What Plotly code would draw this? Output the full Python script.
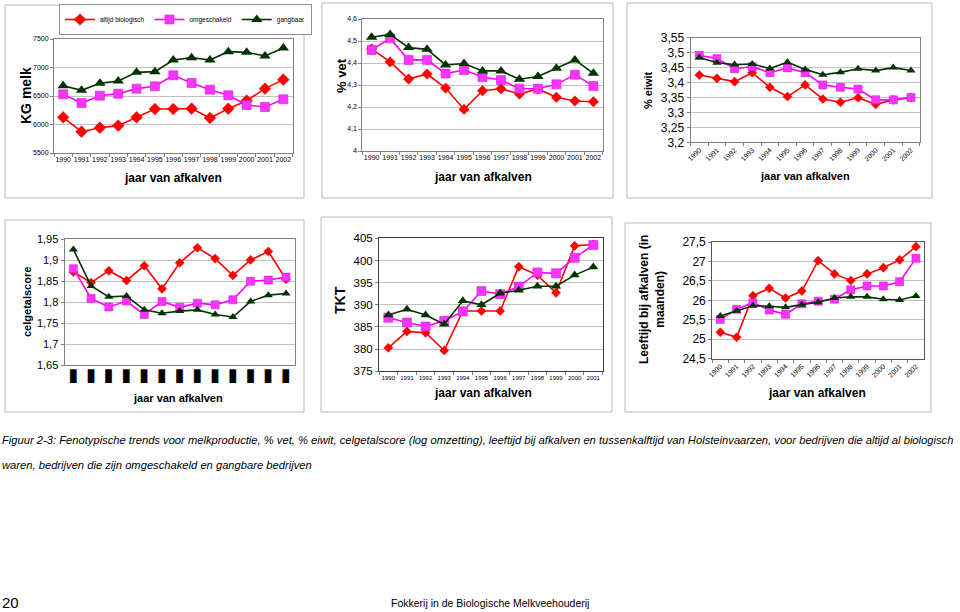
import plotly.graph_objects as go

# ---------------- data ----------------
years13 = ["1990", "1991", "1992", "1993", "1994", "1995", "1996",
           "1997", "1998", "1999", "2000", "2001", "2002"]
years12 = years13[:12]

series_names = ["altijd biologisch", "omgeschakeld", "gangbaar"]

kg_bio = [6126, 5874, 5944, 5980, 6126, 6272, 6272, 6278, 6114, 6278, 6418, 6629, 6787]
kg_omg = [6529, 6377, 6506, 6541, 6629, 6670, 6863, 6728, 6611, 6512, 6342, 6307, 6442]
kg_gang = [6681, 6599, 6722, 6763, 6915, 6927, 7132, 7173, 7132, 7278, 7266, 7202, 7342]

vet_bio = [4.464, 4.405, 4.327, 4.350, 4.286, 4.189, 4.274, 4.283, 4.259, 4.282, 4.244, 4.227, 4.224]
vet_omg = [4.459, 4.512, 4.414, 4.414, 4.352, 4.368, 4.336, 4.323, 4.283, 4.283, 4.303, 4.347, 4.295]
vet_gang = [4.517, 4.530, 4.470, 4.462, 4.391, 4.398, 4.364, 4.364, 4.326, 4.339, 4.376, 4.414, 4.353]

eiwit_bio = [3.425, 3.414, 3.403, 3.433, 3.384, 3.353, 3.392, 3.345, 3.334, 3.349, 3.327, 3.342, 3.350]
eiwit_omg = [3.491, 3.480, 3.446, 3.453, 3.433, 3.449, 3.433, 3.392, 3.384, 3.378, 3.342, 3.342, 3.350]
eiwit_gang = [3.484, 3.466, 3.460, 3.462, 3.447, 3.468, 3.444, 3.426, 3.434, 3.446, 3.440, 3.450, 3.440]

cel_bio = [1.872, 1.847, 1.875, 1.852, 1.887, 1.832, 1.894, 1.930, 1.904, 1.864, 1.901, 1.921, 1.855]
cel_omg = [1.880, 1.809, 1.789, 1.803, 1.771, 1.802, 1.788, 1.798, 1.794, 1.806, 1.850, 1.853, 1.860]
cel_gang = [1.926, 1.839, 1.813, 1.815, 1.782, 1.774, 1.779, 1.782, 1.771, 1.765, 1.802, 1.817, 1.821]

tkt_bio = [380.3, 384.0, 383.7, 379.7, 388.6, 388.6, 388.6, 398.6, 396.7, 392.7, 403.3, 403.6]
tkt_omg = [387.1, 386.0, 385.1, 386.4, 388.5, 393.1, 392.4, 394.1, 397.3, 397.1, 400.6, 403.5]
tkt_gang = [387.7, 389.0, 387.7, 385.6, 390.9, 390.0, 392.6, 393.3, 394.2, 394.2, 396.7, 398.5]

leef_bio = [25.18, 25.05, 26.12, 26.31, 26.06, 26.24, 27.02, 26.68, 26.51, 26.68, 26.84, 27.04, 27.38]
leef_omg = [25.51, 25.77, 25.94, 25.75, 25.64, 25.91, 25.98, 26.03, 26.27, 26.37, 26.37, 26.48, 27.08]
leef_gang = [25.60, 25.73, 25.86, 25.85, 25.82, 25.89, 25.95, 26.06, 26.09, 26.09, 26.03, 26.01, 26.11]

kg_ticks = [5500, 6000, 6500, 7000, 7500]
vet_ticks = [4.0, 4.1, 4.2, 4.3, 4.4, 4.5, 4.6]
eiwit_ticks = [3.2, 3.25, 3.3, 3.35, 3.4, 3.45, 3.5, 3.55]
cel_ticks = [1.65, 1.7, 1.75, 1.8, 1.85, 1.9, 1.95]
tkt_ticks = [375, 380, 385, 390, 395, 400, 405]
leef_ticks = [24.5, 25, 25.5, 26, 26.5, 27, 27.5]
cel_xtick_glyphs = ["\u25ae" for _ in years13]   # tick labels print as black blocks in the reference

caption_1 = ("Figuur 2-3: Fenotypische trends voor melkproductie, % vet, % eiwit, celgetalscore (log omzetting), "
             "leeftijd bij afkalven en tussenkalftijd van Holsteinvaarzen, voor bedrijven die altijd al biologisch")
caption_2 = "waren, bedrijven die zijn omgeschakeld en gangbare bedrijven"
footer_page = "20"
footer_title = "Fokkerij in de Biologische Melkveehouderij"

# ---------------- helpers ----------------
W, H = 960, 612
FONT = "Liberation Sans, Arial, sans-serif"

RED = "#ff0000"
MAG = "#ff33ff"
MAG_LINE = "#ff00ff"
GRN = "#003300"


def fx(px):
    return px / W


def fy(px):
    return 1 - px / H


def fmt(v):
    return f"{v:g}".replace(".", ",")


fig = go.Figure()

panels = [
    ("", years13, kg_bio, kg_omg, kg_gang, (54, 292.5), (39, 153), kg_ticks, (9, 9, 10), True),
    ("2", years13, vet_bio, vet_omg, vet_gang, (362.4, 602.6), (19, 151), vet_ticks, (8, 9, 10), False),
    ("3", years13, eiwit_bio, eiwit_omg, eiwit_gang, (690.5, 919.8), (37.7, 142.3), eiwit_ticks, (7, 8, 8), False),
    ("4", years13, cel_bio, cel_omg, cel_gang, (64.5, 294.9), (239.3, 365.3), cel_ticks, (7, 8, 8), False),
    ("5", years12, tkt_bio, tkt_omg, tkt_gang, (379, 602.6), (238.3, 371.3), tkt_ticks, (7, 9, 9), False),
    ("6", years13, leef_bio, leef_omg, leef_gang, (712.2, 924.1), (242, 358.7), leef_ticks, (7, 8, 8), False),
]

layout_axes = {}
for suffix, xs, bio, omg, gang, dx, dy, yt, sz, legend in panels:
    xa = "x" + suffix
    ya = "y" + suffix
    fig.add_trace(go.Scatter(
        x=xs, y=bio, name=series_names[0], xaxis=xa, yaxis=ya, mode="lines+markers",
        line=dict(color=RED, width=1.6),
        marker=dict(symbol="diamond", size=sz[0], color=RED, line=dict(color="#dd0000", width=0.5)),
        showlegend=legend, legendrank=1))
    fig.add_trace(go.Scatter(
        x=xs, y=omg, name=series_names[1], xaxis=xa, yaxis=ya, mode="lines+markers",
        line=dict(color=MAG_LINE, width=1.6),
        marker=dict(symbol="square", size=sz[1], color=MAG, line=dict(color="#cc22cc", width=0.6)),
        showlegend=legend, legendrank=2))
    fig.add_trace(go.Scatter(
        x=xs, y=gang, name=series_names[2], xaxis=xa, yaxis=ya, mode="lines+markers",
        line=dict(color=GRN, width=1.6),
        marker=dict(symbol="triangle-up", size=sz[2], color=GRN),
        showlegend=legend, legendrank=3))

    xkey = "xaxis" + suffix
    ykey = "yaxis" + suffix
    small_ticks = suffix in ("", "2")
    layout_axes[xkey] = dict(
        domain=[fx(dx[0]), fx(dx[1])], anchor=ya, type="category",
        categoryorder="array", categoryarray=xs,
        range=[-0.5, len(xs) - 0.5], automargin=False,
        showline=True, mirror=True, linecolor="#808080", linewidth=1,
        ticks="outside", ticklen=3, tickcolor="#808080", tickson="boundaries",
        showgrid=False, tickangle=0,
        tickfont=dict(family=FONT, size=7, color="#000"), fixedrange=True,
    )
    layout_axes[ykey] = dict(
        domain=[fy(dy[1]), fy(dy[0])], anchor=xa, automargin=False,
        range=[yt[0], yt[-1]], tickvals=yt, ticktext=[fmt(v) for v in yt],
        showline=True, mirror=True, linecolor="#808080", linewidth=1,
        ticks="outside", ticklen=3, tickcolor="#808080",
        showgrid=True, gridcolor="#c0c0c0", gridwidth=1, zeroline=False,
        tickfont=dict(family=FONT, size=7 if small_ticks else 12, color="#000"),
        fixedrange=True,
    )

layout_axes["xaxis3"].update(tickangle=-45, tickfont=dict(family=FONT, size=7, color="#000"))
layout_axes["xaxis6"].update(tickangle=-45, tickfont=dict(family=FONT, size=7, color="#000"))
layout_axes["xaxis5"].update(tickfont=dict(family=FONT, size=6, color="#000"))
layout_axes["yaxis4"].update(tickfont=dict(family=FONT, size=11, color="#000"))
layout_axes["yaxis5"].update(tickfont=dict(family=FONT, size=11.5, color="#000"))
layout_axes["xaxis4"].update(tickvals=years13, ticktext=cel_xtick_glyphs,
                             tickfont=dict(family="DejaVu Sans", size=18, color="#000"),
                             ticks="", ticklabelstandoff=-7)
layout_axes["xaxis5"].update(linecolor="#334433")
layout_axes["yaxis5"].update(linecolor="#334433")
layout_axes["xaxis6"].update(linecolor="#555555")
layout_axes["yaxis6"].update(linecolor="#555555")

# ---------------- annotations ----------------
ann = []


def add_text(text, x, y, size, bold=True, angle=0, family=FONT, xanchor="center", italic=False):
    t = text
    if bold:
        t = "<b>" + t + "</b>"
    if italic:
        t = "<i>" + t + "</i>"
    ann.append(dict(text=t, x=fx(x), y=fy(y), xref="paper", yref="paper", showarrow=False,
                    textangle=angle, xanchor=xanchor, yanchor="middle", borderpad=0,
                    font=dict(family=family, size=size, color="#000")))


add_text("jaar van afkalven", 173, 178, 12)
add_text("jaar van afkalven", 483, 177, 12)
add_text("jaar van afkalven", 805, 176, 11)
add_text("jaar van afkalven", 178, 398, 11)
add_text("jaar van afkalven", 483, 393, 12)
add_text("jaar van afkalven", 817, 393, 12)
add_text("KG melk", 26, 96, 14, angle=-90)
add_text("% vet", 341, 76, 13, angle=-90)
add_text("% eiwit", 648, 90, 11, angle=-90)
add_text("celgetalscore", 27, 302, 11, angle=-90)
add_text("TKT", 340, 300, 14, angle=-90)
add_text("Leeftijd bij afkalven (in<br>maanden)", 652, 300, 12, angle=-90)

add_text(caption_1, 1, 440, 11.2, bold=False, italic=True, xanchor="left")
add_text(caption_2, 1, 465, 11.2, bold=False, italic=True, xanchor="left")
add_text(footer_page, 1, 602, 15, bold=False, xanchor="left")
add_text(footer_title, 490, 603, 10.5, bold=False)

# ---------------- panel frames ----------------
frames = [(5, 5, 304, 198), (322, 3, 613, 198), (627, 3, 932, 198),
          (5, 220, 304, 412), (321, 217, 612, 412), (625, 223, 931, 412)]
shapes = [dict(type="rect", xref="paper", yref="paper", x0=fx(a), x1=fx(c), y0=fy(d), y1=fy(b),
               line=dict(color="#b8b8b8", width=1), fillcolor="rgba(0,0,0,0)", layer="below")
          for a, b, c, d in frames]

fig.update_layout(
    width=W, height=H, margin=dict(l=0, r=0, t=0, b=0, autoexpand=False),
    paper_bgcolor="white", plot_bgcolor="white",
    separators=",.",
    showlegend=True,
    legend=dict(orientation="h", x=fx(59), y=fy(4), xanchor="left", yanchor="top",
                bordercolor="#909090", borderwidth=1, bgcolor="white",
                font=dict(family=FONT, size=6.5, color="#000"),
                itemwidth=30, tracegroupgap=0, traceorder="normal"),
    annotations=ann, shapes=shapes,
    **layout_axes,
)

fig.write_html("out.html",
               config={"displayModeBar": False, "staticPlot": True},
               post_script="document.body.style.margin='0';document.body.style.padding='0';"
                           "document.body.style.overflow='hidden';")
